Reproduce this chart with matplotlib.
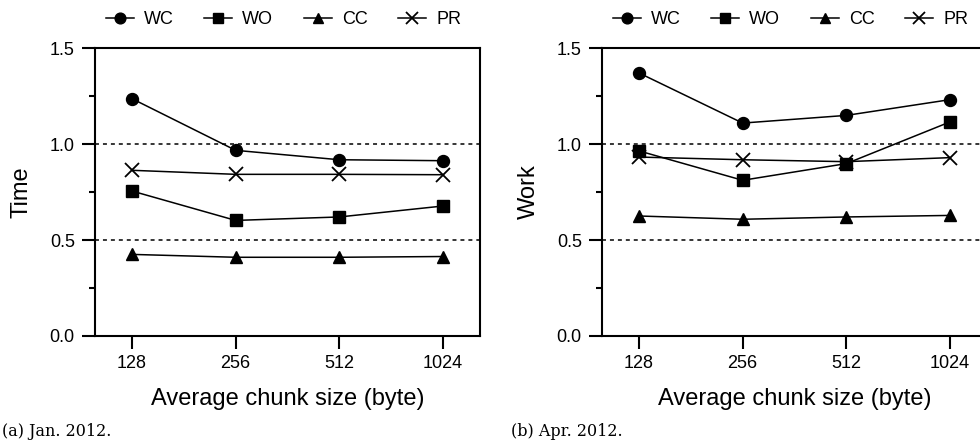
import matplotlib
matplotlib.use("Agg")
import matplotlib.pyplot as plt
from matplotlib.ticker import MultipleLocator

plt.rcParams['font.family'] = ['Liberation Sans', 'DejaVu Sans']

chunk_sizes = ["128", "256", "512", "1024"]
series_names = ["WC", "WO", "CC", "PR"]
markers = ["o", "s", "^", "x"]

time_wc = [1.236, 0.967, 0.918, 0.913]
time_wo = [0.755, 0.602, 0.620, 0.677]
time_cc = [0.425, 0.410, 0.410, 0.414]
time_pr = [0.863, 0.842, 0.842, 0.840]

work_wc = [1.370, 1.109, 1.149, 1.231]
work_wo = [0.964, 0.811, 0.898, 1.115]
work_cc = [0.625, 0.608, 0.620, 0.628]
work_pr = [0.932, 0.918, 0.908, 0.929]

panels = [
    dict(ylabel="Time", caption="(a) Jan. 2012.", data=[time_wc, time_wo, time_cc, time_pr]),
    dict(ylabel="Work", caption="(b) Apr. 2012.", data=[work_wc, work_wo, work_cc, work_pr]),
]

fig = plt.figure(figsize=(9.8, 4.47), dpi=100)
W, H = 980.0, 447.0
ax_lefts = [95.0, 602.0]
cap_x = [2.0, 511.0]

for i, p in enumerate(panels):
    ax = fig.add_axes([ax_lefts[i] / W, (H - 336) / H, 385 / W, 288 / H])
    x = list(range(len(chunk_sizes)))
    for name, mk, vals in zip(series_names, markers, p["data"]):
        ms = 9.5 if mk == "x" else 8.6
        ax.plot(x, vals, marker=mk, color="black", lw=1.1, ms=ms,
                mew=1.3 if mk == "x" else 1.0, label=name, clip_on=False, zorder=3)
    for yv in (0.5, 1.0):
        ax.axhline(yv, color="black", lw=1.1, linestyle=(0, (2.6, 2.6)), zorder=1)
    ax.set_xlim(-0.357, 3.357)
    ax.set_ylim(0, 1.5)
    ax.set_xticks(x)
    ax.set_xticklabels(chunk_sizes)
    ax.yaxis.set_major_locator(MultipleLocator(0.5))
    ax.yaxis.set_minor_locator(MultipleLocator(0.25))
    ax.yaxis.set_major_formatter(plt.FuncFormatter(lambda v, pos: f"{v:.1f}"))
    for s in ax.spines.values():
        s.set_linewidth(1.5)
    ax.tick_params(axis="both", which="major", length=9.5, width=1.5, labelsize=13, direction="out")
    ax.tick_params(axis="y", which="major", pad=5)
    ax.tick_params(axis="x", which="major", pad=4)
    ax.tick_params(axis="y", which="minor", length=4.5, width=1.5, direction="out")
    ax.set_ylabel(p["ylabel"], fontsize=17)
    ax.yaxis.set_label_coords(-0.19, 0.5)
    ax.yaxis.label.set_va("center")
    ax.set_xlabel("Average chunk size (byte)", fontsize=17)
    ax.xaxis.set_label_coords(0.5, -0.218)
    ax.xaxis.label.set_va("center")
    ax.legend(loc="center", bbox_to_anchor=(0.49, 1.098), ncol=4, frameon=False,
              fontsize=13, handlelength=1.55, handletextpad=0.55, columnspacing=1.7,
              markerscale=0.9, borderaxespad=0)
    fig.text(cap_x[i] / W, 1 - 432 / H, p["caption"], fontsize=11.5,
             family="DejaVu Serif", ha="left", va="center")

fig.savefig("out.png", dpi=100)
